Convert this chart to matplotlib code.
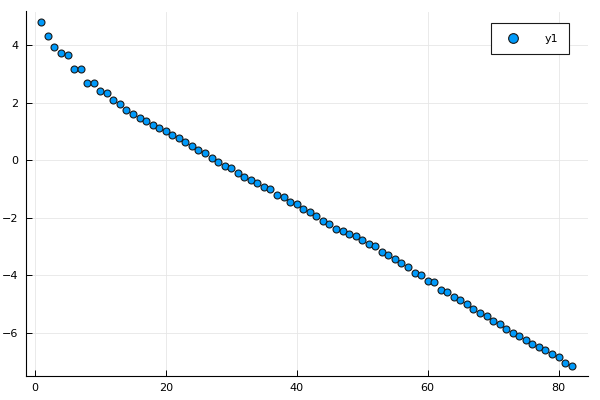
import numpy as np
import matplotlib
matplotlib.use('Agg')
import matplotlib.pyplot as plt

# valores
x = np.arange(1, 83)
y1 = [4.81, 4.31, 3.92, 3.71, 3.65, 3.17, 3.17, 2.67, 2.67, 2.40,
      2.34, 2.08, 1.95, 1.76, 1.61, 1.45, 1.36, 1.22, 1.12, 1.00,
      0.87, 0.77, 0.63, 0.48, 0.35, 0.26, 0.06, -0.07, -0.21, -0.27,
      -0.46, -0.58, -0.70, -0.79, -0.95, -1.02, -1.22, -1.29, -1.44, -1.54,
      -1.69, -1.82, -1.95, -2.12, -2.23, -2.39, -2.47, -2.56, -2.64, -2.78,
      -2.93, -3.00, -3.21, -3.29, -3.45, -3.57, -3.71, -3.92, -3.99, -4.22,
      -4.25, -4.51, -4.57, -4.77, -4.85, -5.02, -5.17, -5.33, -5.43, -5.58,
      -5.70, -5.87, -6.00, -6.11, -6.27, -6.38, -6.49, -6.62, -6.76, -6.85,
      -7.05, -7.15]
xticks = [0, 20, 40, 60, 80]
yticks = [-6, -4, -2, 0, 2, 4]

fig = plt.figure(figsize=(6, 4), dpi=100)
ax = fig.add_axes([25.5/600, 24/400, 562/600, 364.5/400])

ax.plot(x, y1, 'o', color='#009AFA', markeredgecolor='#1a1a1a',
        markeredgewidth=0.8, markersize=5, label='y1')

span_x = x.max() - x.min()
span_y = max(y1) - min(y1)
ax.set_xlim(x.min() - 0.03 * span_x, x.max() + 0.03 * span_x)
ax.set_ylim(min(y1) - 0.03 * span_y, max(y1) + 0.03 * span_y)
ax.set_xticks(xticks)
ax.set_yticks(yticks)
ax.grid(True, color='#e6e6e6', linewidth=0.6)
ax.set_axisbelow(True)
for s in ['top', 'right']:
    ax.spines[s].set_visible(False)
for s in ['left', 'bottom']:
    ax.spines[s].set_linewidth(0.8)
ax.tick_params(direction='in', length=4, width=0.7, labelsize=8, pad=5)

leg = ax.legend(loc='upper right', bbox_to_anchor=(0.967, 0.968), fontsize=8,
                fancybox=False, framealpha=1, edgecolor='#1a1a1a',
                borderpad=0.95, handletextpad=1.9, borderaxespad=0,
                markerscale=1.4)
leg.get_frame().set_linewidth(0.8)

plt.savefig('out.png', dpi=100)
